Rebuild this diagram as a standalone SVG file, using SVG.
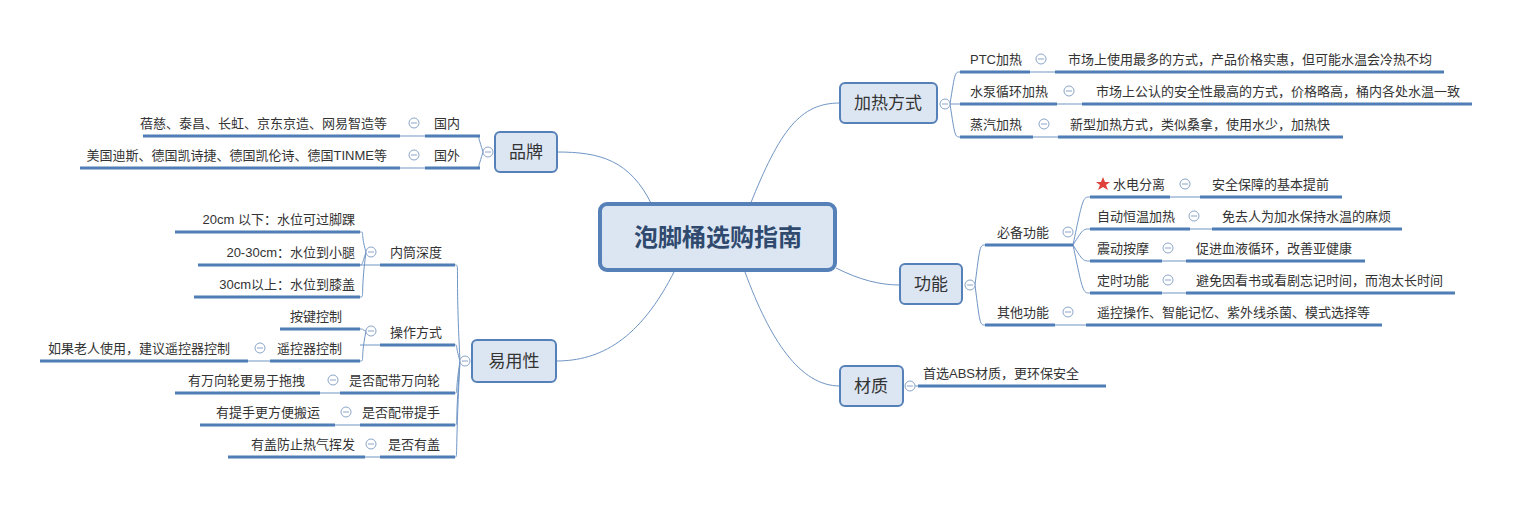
<svg xmlns="http://www.w3.org/2000/svg" width="1519" height="522" viewBox="0 0 1519 522">
<style>
.t{font-family:"Liberation Sans","Noto Sans CJK SC",sans-serif;font-size:13px;fill:#333}
.e{text-anchor:end}
.m{text-anchor:middle}
.u{stroke:#4f7db5;stroke-width:3;fill:none}
.l{stroke:#6f95c4;stroke-width:1;fill:none}
.b{fill:#dce6f2;stroke:#5680b8;stroke-width:2}
.bt{font-family:"Liberation Sans","Noto Sans CJK SC",sans-serif;font-size:17px;fill:#333;text-anchor:middle}
.c{fill:#fff;stroke:#8aa5c8;stroke-width:1}
.cm{stroke:#8aa5c8;stroke-width:1}
</style>
<defs>
<g id="col"><circle class="c" r="5"/><line class="cm" x1="-3" x2="3" y1="0" y2="0"/></g>
</defs>
<g id="connectors">
<path class="l" d="M750,205 C780,130 800,103 840,103"/>
<path class="l" d="M836,268 C860,280 880,285 900,285"/>
<path class="l" d="M745,272 C770,340 800,386 840,386"/>
<path class="l" d="M652,205 C630,160 600,152 557,152"/>
<path class="l" d="M675,270 C640,340 600,361 556,361"/>
<!-- 加热方式 children -->
<path class="l" d="M950,104 C955,72 955,72 960,72 M950,104 L960,104 M950,104 C955,137 955,137 960,137"/>
<path class="l" d="M1030,72 H1055 M1057,104 H1082 M1033,137 H1058"/>
<!-- 功能 children -->
<path class="l" d="M975,285 C980,245 980,245 985,245 M975,285 C980,325 980,325 985,325"/>
<path class="l" d="M1073,245 C1083,197 1083,197 1090,197 M1073,245 C1083,229 1083,229 1090,229 M1073,245 C1083,261 1083,261 1090,261 M1073,245 C1083,293 1083,293 1090,293"/>
<path class="l" d="M1170,197 H1200 M1190,229 H1212 M1162,261 H1186 M1162,293 H1186 M1055,325 H1086"/>
<path class="l" d="M915,386 H918"/>
<!-- 品牌 children -->
<path class="l" d="M483,152 C478,136 478,136 480,136 M483,152 C478,168 478,168 480,168"/>
<path class="l" d="M400,136 H425 M400,168 H425"/>
<!-- 易用性 children -->
<path class="l" d="M460,361 C455,265 460,265 455,265 M460,361 C455,345 458,345 455,345 M460,361 C455,393 458,393 455,393 M460,361 C455,425 458,425 455,425 M460,361 C455,457 458,457 455,457"/>
<path class="l" d="M366,252 C360,232 365,232 360,232 M366,252 C362,265 362,265 360,265 M366,252 C360,297 365,297 360,297"/>
<path class="l" d="M366,331 C360,329 365,329 360,329 M366,331 C360,361 365,361 360,361"/>
<path class="l" d="M360,265 H380 M360,345 H380 M248,361 H270 M320,393 H340 M335,425 H360 M365,457 H380"/>
</g>
<g id="center">
<rect x="600" y="204" width="235" height="66" rx="7" fill="#dce6f2" stroke="#5680b8" stroke-width="4"/>
<text x="718" y="246" font-family="Liberation Sans,Noto Sans CJK SC,sans-serif" font-size="24" font-weight="bold" fill="#2f4a6e" text-anchor="middle">泡脚桶选购指南</text>
</g>
<g id="heat">
<rect class="b" x="840" y="83" width="97" height="40" rx="5"/><text class="bt" x="888" y="109">加热方式</text>
<use href="#col" x="945" y="104"/>
<text class="t" x="970" y="64">PTC加热</text><path class="u" d="M960,72 H1030"/><use href="#col" x="1041" y="59"/>
<text class="t" x="1068" y="64">市场上使用最多的方式，产品价格实惠，但可能水温会冷热不均</text><path class="u" d="M1055,72 H1444"/>
<text class="t" x="970" y="96">水泵循环加热</text><path class="u" d="M960,104 H1057"/><use href="#col" x="1069" y="91"/>
<text class="t" x="1096" y="96">市场上公认的安全性最高的方式，价格略高，桶内各处水温一致</text><path class="u" d="M1082,104 H1472"/>
<text class="t" x="970" y="129">蒸汽加热</text><path class="u" d="M960,137 H1033"/><use href="#col" x="1044" y="124"/>
<text class="t" x="1070" y="129">新型加热方式，类似桑拿，使用水少，加热快</text><path class="u" d="M1058,137 H1343"/>
</g>
<g id="func">
<rect class="b" x="900" y="264" width="62" height="40" rx="5"/><text class="bt" x="931" y="290">功能</text>
<use href="#col" x="970" y="285"/>
<text class="t" x="997" y="237">必备功能</text><path class="u" d="M985,245 H1073"/><use href="#col" x="1068" y="232"/>
<polygon points="1103,177 1105,182 1110,182 1106,185 1108,190 1103,187 1098,190 1100,185 1096,182 1101,182" fill="#e0413a"/>
<text class="t" x="1113" y="189">水电分离</text><path class="u" d="M1090,197 H1170"/><use href="#col" x="1185" y="184"/>
<text class="t" x="1212" y="189">安全保障的基本提前</text><path class="u" d="M1200,197 H1342"/>
<text class="t" x="1097" y="221">自动恒温加热</text><path class="u" d="M1090,229 H1190"/><use href="#col" x="1194" y="216"/>
<text class="t" x="1222" y="221">免去人为加水保持水温的麻烦</text><path class="u" d="M1212,229 H1402"/>
<text class="t" x="1097" y="253">震动按摩</text><path class="u" d="M1090,261 H1162"/><use href="#col" x="1168" y="248"/>
<text class="t" x="1196" y="253">促进血液循环，改善亚健康</text><path class="u" d="M1186,261 H1365"/>
<text class="t" x="1097" y="285">定时功能</text><path class="u" d="M1090,293 H1162"/><use href="#col" x="1168" y="280"/>
<text class="t" x="1196" y="285">避免因看书或看剧忘记时间，而泡太长时间</text><path class="u" d="M1186,293 H1455"/>
<text class="t" x="997" y="317">其他功能</text><path class="u" d="M985,325 H1055"/><use href="#col" x="1068" y="312"/>
<text class="t" x="1097" y="317">遥控操作、智能记忆、紫外线杀菌、模式选择等</text><path class="u" d="M1086,325 H1382"/>
</g>
<g id="material">
<rect class="b" x="840" y="366" width="63" height="40" rx="5"/><text class="bt" x="871" y="392">材质</text>
<use href="#col" x="910" y="386"/>
<text class="t" x="923" y="378">首选ABS材质，更环保安全</text><path class="u" d="M918,386 H1106"/>
</g>
<g id="brand">
<rect class="b" x="495" y="132" width="62" height="40" rx="5"/><text class="bt" x="526" y="158">品牌</text>
<use href="#col" x="488" y="152"/>
<text class="t" x="434" y="128">国内</text><path class="u" d="M425,136 H480"/><use href="#col" x="414" y="123"/>
<text class="t e" x="387" y="128">蓓慈、泰昌、长虹、京东京造、网易智造等</text><path class="u" d="M143,136 H400"/>
<text class="t" x="434" y="160">国外</text><path class="u" d="M425,168 H480"/><use href="#col" x="414" y="155"/>
<text class="t e" x="387" y="160">美国迪斯、德国凯诗捷、德国凯伦诗、德国TINME等</text><path class="u" d="M80,168 H400"/>
</g>
<g id="ease">
<rect class="b" x="472" y="340" width="84" height="42" rx="5"/><text class="bt" x="514" y="367">易用性</text>
<use href="#col" x="465" y="361"/>
<text class="t" x="390" y="257">内筒深度</text><path class="u" d="M380,265 H455"/><use href="#col" x="371" y="252"/>
<text class="t e" x="355" y="224">20cm 以下：水位可过脚踝</text><path class="u" d="M175,232 H360"/>
<text class="t e" x="355" y="257">20-30cm：水位到小腿</text><path class="u" d="M198,265 H360"/>
<text class="t e" x="355" y="289">30cm以上：水位到膝盖</text><path class="u" d="M194,297 H360"/>
<text class="t" x="390" y="337">操作方式</text><path class="u" d="M380,345 H455"/><use href="#col" x="371" y="331"/>
<text class="t e" x="342" y="321">按键控制</text><path class="u" d="M280,329 H360"/>
<text class="t e" x="342" y="353">遥控器控制</text><path class="u" d="M270,361 H360"/><use href="#col" x="260" y="348"/>
<text class="t e" x="230" y="353">如果老人使用，建议遥控器控制</text><path class="u" d="M40,361 H248"/>
<text class="t e" x="440" y="385">是否配带万向轮</text><path class="u" d="M340,393 H455"/><use href="#col" x="333" y="380"/>
<text class="t e" x="305" y="385">有万向轮更易于拖拽</text><path class="u" d="M175,393 H320"/>
<text class="t e" x="440" y="417">是否配带提手</text><path class="u" d="M360,425 H455"/><use href="#col" x="346" y="412"/>
<text class="t e" x="320" y="417">有提手更方便搬运</text><path class="u" d="M200,425 H335"/>
<text class="t e" x="440" y="449">是否有盖</text><path class="u" d="M380,457 H455"/><use href="#col" x="371" y="444"/>
<text class="t e" x="355" y="449">有盖防止热气挥发</text><path class="u" d="M228,457 H365"/>
</g>
</svg>
